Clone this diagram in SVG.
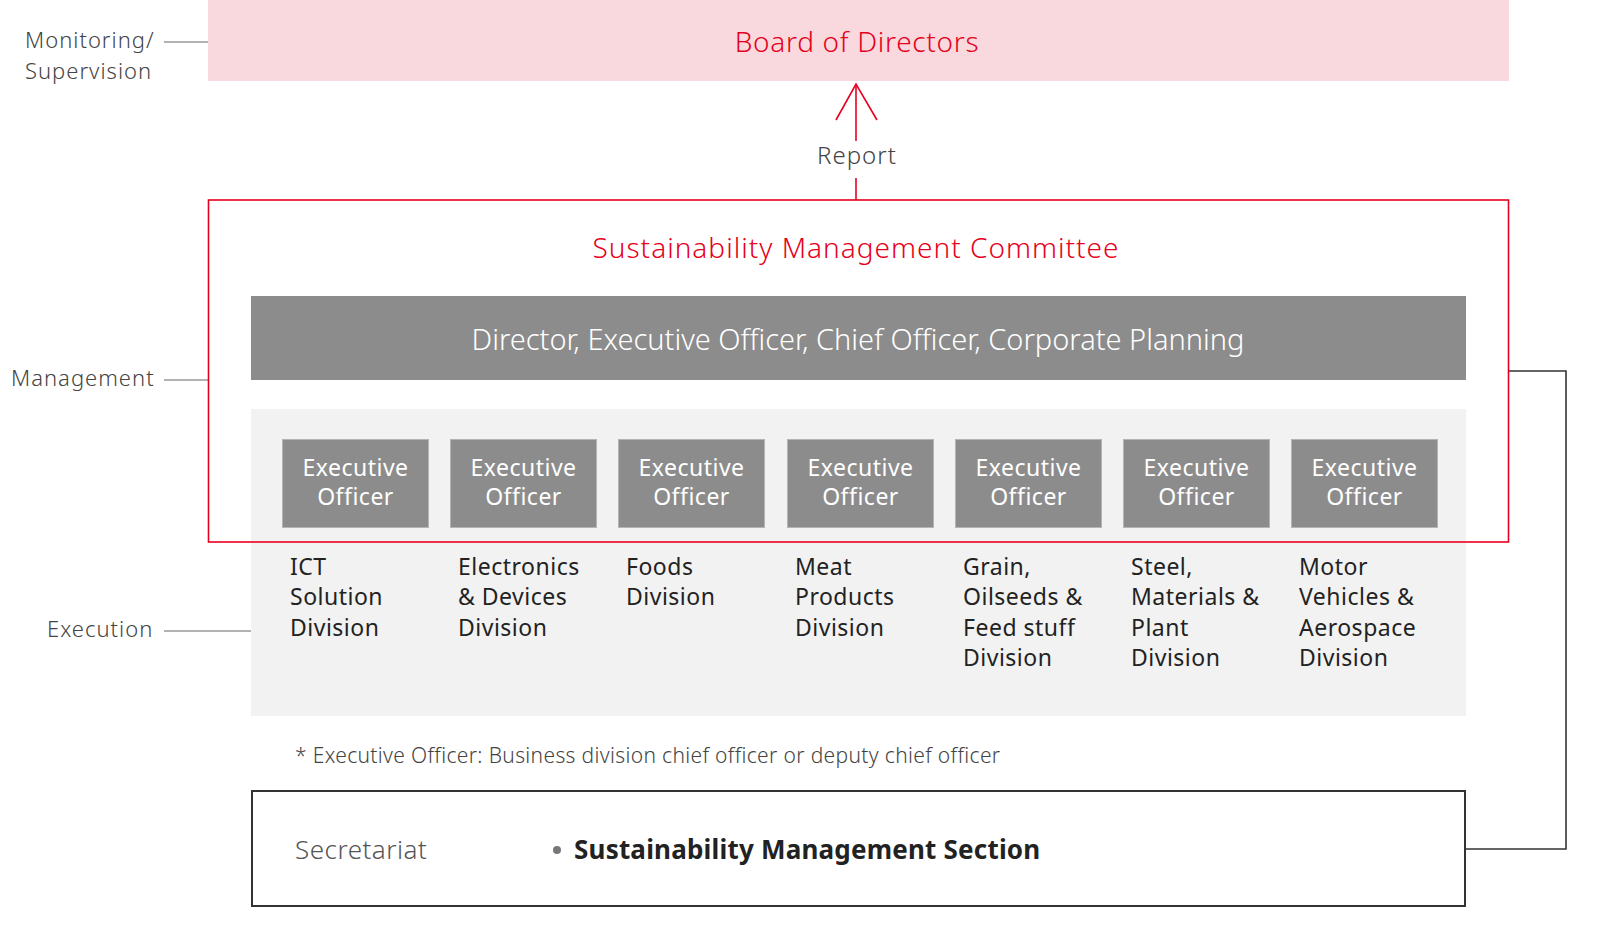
<svg xmlns="http://www.w3.org/2000/svg" width="1608" height="930" viewBox="0 0 1608 930">
<style>
text{font-family:"Noto Sans","Open Sans","Liberation Sans",sans-serif;}
.side{font-size:22px;fill:#444;font-weight:300;letter-spacing:1px;}
.tick{stroke:#999;stroke-width:1.3;fill:none;}
.red{fill:#e60020;font-size:28px;font-weight:300;}
.eo{fill:#8c8c8c;stroke:#b4b4b4;stroke-width:1;}
.eot{fill:#fff;font-size:23px;text-anchor:middle;letter-spacing:0.5px;}
.div{fill:#222;font-size:23px;letter-spacing:0.5px;}
.conn{stroke:#333;stroke-width:1.6;fill:none;}
</style>
<g id="side-labels">
<text class="side" x="25" y="48">Monitoring/</text>
<text class="side" x="25" y="79">Supervision</text>
<line class="tick" x1="164" y1="42" x2="208" y2="42"/>
<text class="side" x="11" y="386">Management</text>
<line class="tick" x1="164" y1="380" x2="208" y2="380"/>
<text class="side" x="47" y="637">Execution</text>
<line class="tick" x1="164" y1="631" x2="251" y2="631"/>
</g>
<g id="board">
<rect x="208" y="0" width="1301" height="81" fill="#f9d9dd"/>
<text class="red" x="857" y="52" text-anchor="middle" letter-spacing="0.7">Board of Directors</text>
</g>
<g id="execution-area">
<rect x="251" y="409" width="1215" height="307" fill="#f2f2f2"/>
</g>
<g id="committee">
<rect x="208.5" y="200" width="1300" height="342" fill="none" stroke="#e60020" stroke-width="1.6"/>
<text class="red" x="856" y="258" text-anchor="middle" letter-spacing="1">Sustainability Management Committee</text>
</g>
<g id="director-bar">
<rect x="251" y="296" width="1215" height="84" fill="#8c8c8c"/>
<text x="858" y="350" fill="#fff" font-size="29" font-weight="300" text-anchor="middle">Director, Executive Officer, Chief Officer, Corporate Planning</text>
</g>
<g id="eo1"><rect class="eo" x="282.5" y="439.5" width="146" height="88"/><text class="eot" x="355.5" y="476">Executive</text><text class="eot" x="355.5" y="505">Officer</text></g>
<g id="eo2"><rect class="eo" x="450.5" y="439.5" width="146" height="88"/><text class="eot" x="523.5" y="476">Executive</text><text class="eot" x="523.5" y="505">Officer</text></g>
<g id="eo3"><rect class="eo" x="618.5" y="439.5" width="146" height="88"/><text class="eot" x="691.5" y="476">Executive</text><text class="eot" x="691.5" y="505">Officer</text></g>
<g id="eo4"><rect class="eo" x="787.5" y="439.5" width="146" height="88"/><text class="eot" x="860.5" y="476">Executive</text><text class="eot" x="860.5" y="505">Officer</text></g>
<g id="eo5"><rect class="eo" x="955.5" y="439.5" width="146" height="88"/><text class="eot" x="1028.5" y="476">Executive</text><text class="eot" x="1028.5" y="505">Officer</text></g>
<g id="eo6"><rect class="eo" x="1123.5" y="439.5" width="146" height="88"/><text class="eot" x="1196.5" y="476">Executive</text><text class="eot" x="1196.5" y="505">Officer</text></g>
<g id="eo7"><rect class="eo" x="1291.5" y="439.5" width="146" height="88"/><text class="eot" x="1364.5" y="476">Executive</text><text class="eot" x="1364.5" y="505">Officer</text></g>
<g id="divisions">
<text class="div" x="290" y="575">ICT</text><text class="div" x="290" y="605">Solution</text><text class="div" x="290" y="636">Division</text>
<text class="div" x="458" y="575">Electronics</text><text class="div" x="458" y="605">&amp; Devices</text><text class="div" x="458" y="636">Division</text>
<text class="div" x="626" y="575">Foods</text><text class="div" x="626" y="605">Division</text>
<text class="div" x="795" y="575">Meat</text><text class="div" x="795" y="605">Products</text><text class="div" x="795" y="636">Division</text>
<text class="div" x="963" y="575">Grain,</text><text class="div" x="963" y="605">Oilseeds &amp;</text><text class="div" x="963" y="636">Feed stuff</text><text class="div" x="963" y="666">Division</text>
<text class="div" x="1131" y="575">Steel,</text><text class="div" x="1131" y="605">Materials &amp;</text><text class="div" x="1131" y="636">Plant</text><text class="div" x="1131" y="666">Division</text>
<text class="div" x="1299" y="575">Motor</text><text class="div" x="1299" y="605">Vehicles &amp;</text><text class="div" x="1299" y="636">Aerospace</text><text class="div" x="1299" y="666">Division</text>
</g>
<g id="footnote">
<text x="295" y="763" fill="#444" font-size="21" font-weight="300" letter-spacing="0.35">* Executive Officer: Business division chief officer or deputy chief officer</text>
</g>
<g id="secretariat">
<rect x="252" y="791" width="1213" height="115" fill="#fff" stroke="#333" stroke-width="2"/>
<text x="295" y="859" fill="#555" font-size="26" font-weight="300" letter-spacing="0.5">Secretariat</text>
<circle cx="557" cy="850" r="4" fill="#777"/>
<text x="574" y="859" fill="#222" font-size="26" font-weight="bold" letter-spacing="0.2">Sustainability Management Section</text>
</g>
<g id="connectors">
<line x1="856" y1="84" x2="856" y2="141" stroke="#e60020" stroke-width="1.6"/>
<line x1="856" y1="178" x2="856" y2="200" stroke="#e60020" stroke-width="1.6"/>
<polyline points="836,120 856,84 877,120" fill="none" stroke="#e60020" stroke-width="1.6"/>
<text x="857" y="164" fill="#444" font-size="24" font-weight="300" text-anchor="middle" letter-spacing="1">Report</text>
<polyline class="conn" points="1509,371 1566,371 1566,849 1466,849"/>
</g>
</svg>
